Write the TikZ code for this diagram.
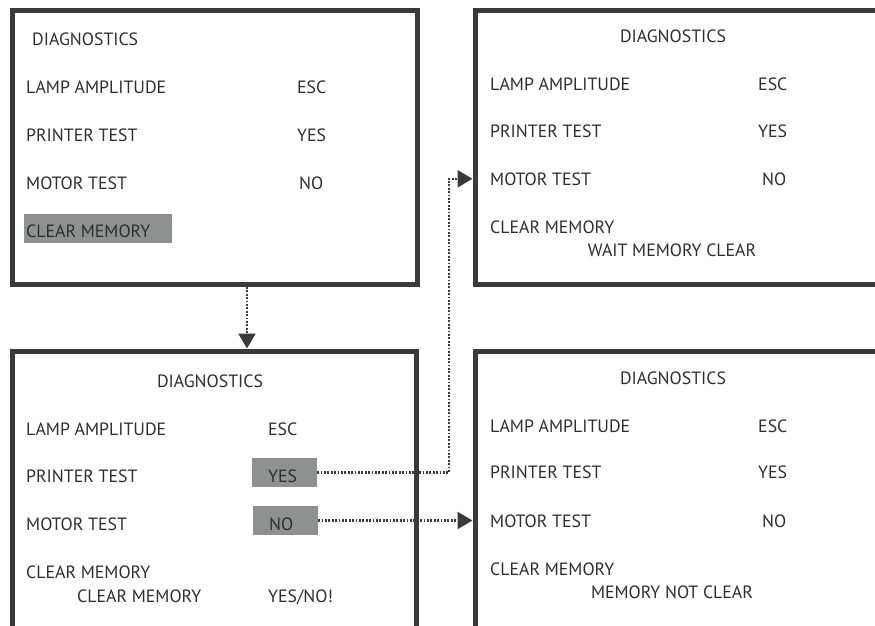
\documentclass[tikz,border=0pt]{standalone}
\usepackage{fontspec}
\setmainfont{PT Sans}
\usetikzlibrary{arrows.meta}
\definecolor{ink}{HTML}{3A3A3A}
\definecolor{txt}{HTML}{2E2E2E}
\definecolor{hl}{HTML}{8F9190}
\begin{document}
\begin{tikzpicture}[x=1pt,y=-1pt,
  panel/.style={draw=ink, line width=5pt, rectangle, inner sep=0pt},
  hlbox/.style={fill=hl, draw=none, rectangle, inner sep=0pt},
  lbl/.style={anchor=base west, inner sep=0pt, text=txt, font=\fontsize{17.8}{20}\selectfont},
  clbl/.style={anchor=base, inner sep=0pt, text=txt, font=\fontsize{17.8}{20}\selectfont},
  dotline/.style={draw=ink, line width=2.4pt, dash pattern=on 1.8pt off 1.6pt},
  tip/.style={-{Triangle[width=17pt,length=15pt]}}]
\useasboundingbox (0,0) rectangle (875,625);

% panels
\node[panel, minimum width=405.5pt, minimum height=274.5pt] (boxA) at (214.75,147.25) {};
\node[panel, minimum width=404.5pt, minimum height=279pt] (boxC) at (214.25,490.5) {};
\node[panel, minimum width=425pt, minimum height=274.5pt] (boxB) at (687.5,147.25) {};
\node[panel, minimum width=425pt, minimum height=279pt] (boxD) at (687.5,490.5) {};

% highlights
\node[hlbox, minimum width=148pt, minimum height=29pt] (hlA) at (98,228.5) {};
\node[hlbox, minimum width=65pt, minimum height=29pt] (yesC) at (284.5,472.5) {};
\node[hlbox, minimum width=65pt, minimum height=29pt] (noC) at (285.5,520.5) {};

% panel A
\node[lbl] (a0) at (32,45) {DIAGNOSTICS};
\node[lbl] (a1) at (26,93) {LAMP AMPLITUDE};
\node[lbl] (a1v) at (297,93) {ESC};
\node[lbl] (a2) at (26,141) {PRINTER TEST};
\node[lbl] (a2v) at (297,141) {YES};
\node[lbl] (a3) at (26,189) {MOTOR TEST};
\node[lbl] (a3v) at (299,189) {NO};
\node[lbl] (a4) at (26,237) {CLEAR MEMORY};

% panel C
\node[clbl] (c0) at (210,387) {DIAGNOSTICS};
\node[lbl] (c1) at (26,435) {LAMP AMPLITUDE};
\node[lbl] (c1v) at (268,435) {ESC};
\node[lbl] (c2) at (26,482) {PRINTER TEST};
\node[lbl] (c2v) at (268,482) {YES};
\node[lbl] (c3) at (26,530) {MOTOR TEST};
\node[lbl] (c3v) at (269,530) {NO};
\node[lbl] (c4) at (26,578) {CLEAR MEMORY};
\node[lbl] (c5) at (77,602) {CLEAR MEMORY};
\node[lbl] (c5v) at (268,602) {YES/NO!};

% panel B
\node[clbl] (b0) at (673,42) {DIAGNOSTICS};
\node[lbl] (b1) at (490,90) {LAMP AMPLITUDE};
\node[lbl] (b1v) at (758,90) {ESC};
\node[lbl] (b2) at (490,137) {PRINTER TEST};
\node[lbl] (b2v) at (758,137) {YES};
\node[lbl] (b3) at (490,185) {MOTOR TEST};
\node[lbl] (b3v) at (762,185) {NO};
\node[lbl] (b4) at (490,233) {CLEAR MEMORY};
\node[clbl] (b5) at (672,256) {WAIT MEMORY CLEAR};

% panel D
\node[clbl] (d0) at (673,384) {DIAGNOSTICS};
\node[lbl] (d1) at (490,432) {LAMP AMPLITUDE};
\node[lbl] (d1v) at (758,432) {ESC};
\node[lbl] (d2) at (490,478) {PRINTER TEST};
\node[lbl] (d2v) at (758,478) {YES};
\node[lbl] (d3) at (490,527) {MOTOR TEST};
\node[lbl] (d3v) at (762,527) {NO};
\node[lbl] (d4) at (490,575) {CLEAR MEMORY};
\node[clbl] (d5) at (672,598) {MEMORY NOT CLEAR};

% connectors
\coordinate (vx) at (247,0);
\coordinate (bx) at (449,0);
\draw[dotline, tip] (boxA.south -| vx) -- (boxC.north -| vx);
\draw[dotline, tip] (yesC.east) -- (yesC.east -| bx) |- (boxB.west |- b3);
\draw[dotline, tip] (noC.east) -- (boxD.west |- noC.east);
\end{tikzpicture}
\end{document}
